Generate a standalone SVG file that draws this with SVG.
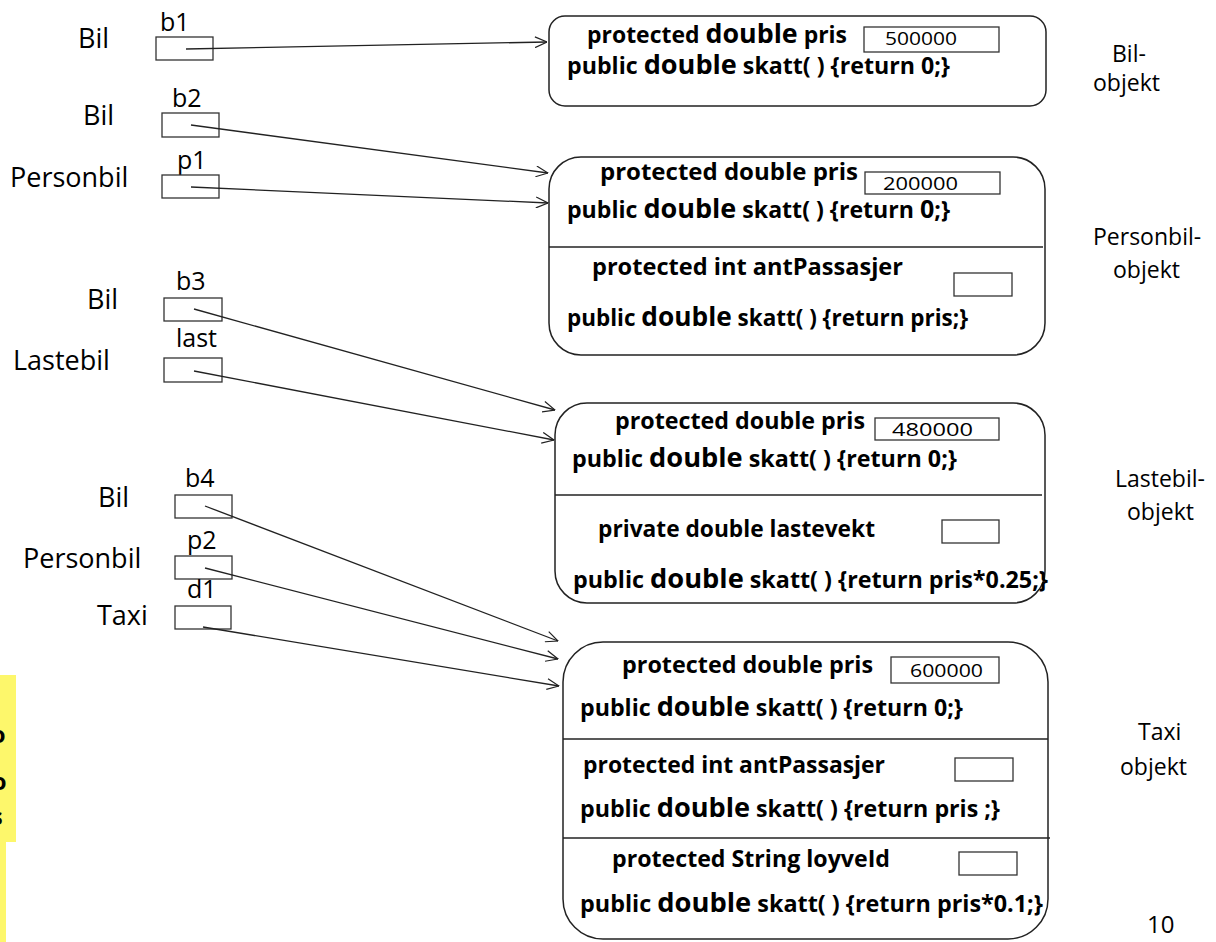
<svg xmlns="http://www.w3.org/2000/svg" width="1216" height="942" viewBox="0 0 1216 942">
<defs>
<marker id="arr" viewBox="0 0 10 10" markerWidth="13" markerHeight="12" refX="10" refY="5" orient="auto" markerUnits="userSpaceOnUse">
<path d="M0,0.5 L10,5 L0,9.5" fill="none" stroke="#222" stroke-width="1"/>
</marker>
</defs>
<style>
.lbl{font-family:"Open Sans","Liberation Sans",sans-serif;font-size:27px;fill:#000}
.vn{font-family:"Open Sans","Liberation Sans",sans-serif;font-size:25px;fill:#000}
.rl{font-family:"Open Sans","Liberation Sans",sans-serif;font-size:23px;fill:#000}
.b{font-family:"Open Sans","Liberation Sans",sans-serif;font-size:23.5px;font-weight:bold;fill:#000}
.big{font-size:27.5px}
.big0{font-size:25.5px}
.val{font-family:"Open Sans","Liberation Sans",sans-serif;font-size:18px;fill:#000}
.vbox{fill:#fff;stroke:#333;stroke-width:1.3}
.obj{fill:#fff;stroke:#222;stroke-width:1.5}
.div{stroke:#222;stroke-width:1.5}
.con{stroke:#222;stroke-width:1.3;fill:none;marker-end:url(#arr)}
</style>
<rect width="1216" height="942" fill="#fff"/>
<g id="highlight">
<rect x="0" y="675" width="16" height="167" fill="#fdf76b"/>
<rect x="0" y="842" width="6" height="100" fill="#fdf76b"/>
<text x="-9" y="743" class="b">o</text>
<text x="-8" y="790" class="b">o</text>
<text x="-9" y="825" class="b">s</text>
</g>

<g id="var-b1">
<text x="78" y="48" class="lbl">Bil</text>
<text x="160" y="31" class="vn">b1</text>
<rect x="156" y="37" width="57" height="23" class="vbox"/>
</g>
<g id="var-b2">
<text x="83" y="125" class="lbl">Bil</text>
<text x="172" y="107" class="vn">b2</text>
<rect x="162" y="113" width="57" height="24" class="vbox"/>
</g>
<g id="var-p1">
<text x="10" y="187" class="lbl">Personbil</text>
<text x="177" y="169" class="vn">p1</text>
<rect x="162" y="175" width="57" height="23" class="vbox"/>
</g>
<g id="var-b3">
<text x="87" y="309" class="lbl">Bil</text>
<text x="176" y="290" class="vn">b3</text>
<rect x="164" y="298" width="58" height="23" class="vbox"/>
</g>
<g id="var-last">
<text x="13" y="370" class="lbl">Lastebil</text>
<text x="176" y="347" class="vn">last</text>
<rect x="164" y="358" width="58" height="24" class="vbox"/>
</g>
<g id="var-b4">
<text x="98" y="507" class="lbl">Bil</text>
<text x="185" y="487" class="vn">b4</text>
<rect x="175" y="495" width="57" height="23" class="vbox"/>
</g>
<g id="var-p2">
<text x="23" y="568" class="lbl">Personbil</text>
<text x="187" y="549" class="vn">p2</text>
<rect x="175" y="556" width="57" height="23" class="vbox"/>
</g>
<g id="var-d1">
<text x="97" y="625" class="lbl">Taxi</text>
<text x="187" y="598" class="vn">d1</text>
<rect x="175" y="606" width="56" height="23" class="vbox"/>
</g>

<g id="obj-bil">
<rect x="549" y="16" width="497" height="90" rx="16" class="obj"/>
<text x="587" y="43" class="b" textLength="260" lengthAdjust="spacingAndGlyphs">protected <tspan class="big">double</tspan> pris</text>
<rect x="864" y="27" width="135" height="25" class="vbox"/>
<text x="885" y="45" class="val" textLength="72" lengthAdjust="spacingAndGlyphs">500000</text>
<text x="567" y="74" class="b" textLength="383" lengthAdjust="spacingAndGlyphs">public <tspan class="big">double</tspan> skatt( ) {return 0;}</text>
<text x="1112" y="62" class="rl">Bil-</text>
<text x="1093" y="91" class="rl">objekt</text>
</g>

<g id="obj-personbil">
<rect x="549" y="157" width="496" height="198" rx="32" class="obj"/>
<line x1="549" y1="247" x2="1043" y2="247" class="div"/>
<text x="600" y="180" class="b" textLength="258" lengthAdjust="spacingAndGlyphs">protected double pris</text>
<rect x="865" y="172" width="135" height="22" class="vbox"/>
<text x="883" y="190" class="val" textLength="75" lengthAdjust="spacingAndGlyphs">200000</text>
<text x="567" y="218" class="b" textLength="383" lengthAdjust="spacingAndGlyphs">public <tspan class="big">double</tspan> skatt( ) {return <tspan class="big0">0</tspan>;}</text>
<text x="592" y="275" class="b" textLength="311" lengthAdjust="spacingAndGlyphs">protected int antPassasjer</text>
<rect x="954" y="273" width="58" height="23" class="vbox"/>
<text x="567" y="326" class="b" textLength="401" lengthAdjust="spacingAndGlyphs">public <tspan class="big">double</tspan> skatt( ) {return pris;}</text>
<text x="1093" y="245" class="rl">Personbil-</text>
<text x="1113" y="278" class="rl">objekt</text>
</g>

<g id="obj-lastebil">
<rect x="555" y="403" width="490" height="200" rx="32" class="obj"/>
<line x1="555" y1="495" x2="1042" y2="495" class="div"/>
<text x="615" y="429" class="b" textLength="250" lengthAdjust="spacingAndGlyphs">protected double pris</text>
<rect x="875" y="418" width="124" height="22" class="vbox"/>
<text x="892" y="436" class="val" textLength="81" lengthAdjust="spacingAndGlyphs">480000</text>
<text x="572" y="467" class="b" textLength="385" lengthAdjust="spacingAndGlyphs">public <tspan class="big">double</tspan> skatt( ) {return 0;}</text>
<text x="598" y="537" class="b" textLength="277" lengthAdjust="spacingAndGlyphs">private double lastevekt</text>
<rect x="942" y="520" width="57" height="23" class="vbox"/>
<text x="573" y="588" class="b" textLength="475" lengthAdjust="spacingAndGlyphs">public <tspan class="big">double</tspan> skatt( ) {return pris*0.25;}</text>
<text x="1115" y="487" class="rl">Lastebil-</text>
<text x="1127" y="520" class="rl">objekt</text>
</g>

<g id="obj-taxi">
<rect x="563" y="642" width="485" height="297" rx="40" class="obj"/>
<line x1="563" y1="739" x2="1048" y2="739" class="div"/>
<line x1="563" y1="838" x2="1050" y2="838" class="div"/>
<text x="622" y="673" class="b" textLength="251" lengthAdjust="spacingAndGlyphs">protected double pris</text>
<rect x="891" y="657" width="108" height="26" class="vbox"/>
<text x="910" y="677" class="val" textLength="73" lengthAdjust="spacingAndGlyphs">600000</text>
<text x="580" y="716" class="b" textLength="383" lengthAdjust="spacingAndGlyphs">public <tspan class="big">double</tspan> skatt( ) {return 0;}</text>
<text x="583" y="773" class="b" textLength="302" lengthAdjust="spacingAndGlyphs">protected int antPassasjer</text>
<rect x="955" y="758" width="58" height="23" class="vbox"/>
<text x="580" y="817" class="b" textLength="420" lengthAdjust="spacingAndGlyphs">public <tspan class="big">double</tspan> skatt( ) {return pris ;}</text>
<text x="612" y="867" class="b" textLength="278" lengthAdjust="spacingAndGlyphs">protected String loyveId</text>
<rect x="959" y="852" width="58" height="23" class="vbox"/>
<text x="580" y="912" class="b" textLength="463" lengthAdjust="spacingAndGlyphs">public <tspan class="big">double</tspan> skatt( ) {return pris*0.1;}</text>
<text x="1138" y="740" class="rl">Taxi</text>
<text x="1120" y="775" class="rl">objekt</text>
</g>

<g id="page-number">
<text x="1147" y="933" class="rl" style="font-size:24px">10</text>
</g>

<g id="connectors">
<line x1="186" y1="49" x2="547" y2="42" class="con"/>
<line x1="191" y1="125" x2="548" y2="173" class="con"/>
<line x1="191" y1="187" x2="548" y2="203" class="con"/>
<line x1="194" y1="309" x2="555" y2="410" class="con"/>
<line x1="194" y1="371" x2="554" y2="440" class="con"/>
<line x1="205" y1="506" x2="558" y2="641" class="con"/>
<line x1="205" y1="568" x2="558" y2="659" class="con"/>
<line x1="203" y1="627" x2="559" y2="686" class="con"/>
</g>
</svg>
